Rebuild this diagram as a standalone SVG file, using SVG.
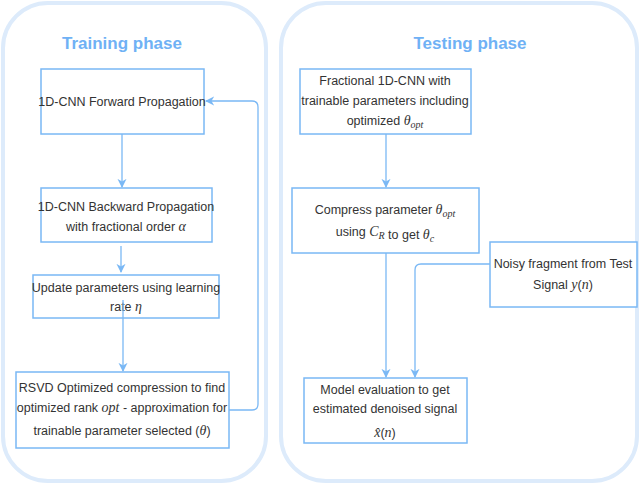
<svg xmlns="http://www.w3.org/2000/svg" width="640" height="484" viewBox="0 0 640 484">
<defs>
<marker id="ah" viewBox="0 0 10 10" refX="9" refY="5" markerWidth="7" markerHeight="7" orient="auto-start-reverse"><path d="M0,0 L10,5 L0,10 L3,5 z" fill="#7ab8f5"/></marker>
</defs>
<style>
.panel{fill:#fff;stroke:#ddebfb;stroke-width:4}
.box{fill:#fff;stroke:#7ab8f5;stroke-width:1.5}
.t{font-family:"Liberation Sans",Arial,sans-serif;font-size:12.5px;fill:#333;text-anchor:middle}
.m{font-family:"Liberation Serif",serif;font-style:italic;font-size:14px}
.h{font-family:"Liberation Sans",Arial,sans-serif;font-size:17px;font-weight:bold;fill:#6fb1f5;text-anchor:middle}
.c{fill:none;stroke:#7ab8f5;stroke-width:1.3;marker-end:url(#ah)}
</style>
<rect width="640" height="484" fill="#fff"/>
<rect class="panel" x="3" y="3" width="263" height="478" rx="45"/>
<rect class="panel" x="281" y="3" width="356" height="478" rx="45"/>
<text class="h" x="122" y="49">Training phase</text>
<text class="h" x="470" y="49">Testing phase</text>
<g id="b1"><rect class="box" x="41" y="69" width="163" height="65"/><text class="t" x="122" y="106">1D-CNN Forward Propagation</text></g>
<g id="b2"><rect class="box" x="41" y="188" width="171" height="54"/><text class="t" x="126" y="211">1D-CNN Backward Propagation</text><text class="t" x="126" y="231">with fractional order <tspan class="m">α</tspan></text></g>
<g id="b3"><rect class="box" x="33" y="275" width="186" height="43"/><text class="t" x="126" y="292">Update parameters using learning</text><text class="t" x="126" y="311">rate <tspan class="m">η</tspan></text></g>
<g id="b4"><rect class="box" x="16" y="372" width="213" height="76"/><text class="t" x="122" y="392">RSVD Optimized compression to find</text><text class="t" x="122" y="412">optimized rank <tspan class="m">opt</tspan> - approximation for</text><text class="t" x="122" y="435">trainable parameter selected (<tspan class="m">θ</tspan>)</text></g>
<g id="r1"><rect class="box" x="300" y="69" width="171" height="65"/><text class="t" x="385" y="85">Fractional 1D-CNN with</text><text class="t" x="385" y="105">trainable parameters including</text><text class="t" x="385" y="125">optimized <tspan class="m">θ<tspan font-size="10" dy="3">opt</tspan></tspan></text></g>
<g id="r2"><rect class="box" x="292" y="188" width="187" height="65"/><text class="t" x="385" y="214">Compress parameter <tspan class="m">θ<tspan font-size="10" dy="3">opt</tspan></tspan></text><text class="t" x="385" y="236">using <tspan class="m">C<tspan font-size="10" dy="3">R</tspan></tspan> to get <tspan class="m">θ<tspan font-size="10" dy="3">c</tspan></tspan></text></g>
<g id="r3"><rect class="box" x="490" y="242" width="147" height="65"/><text class="t" x="563" y="268">Noisy fragment from Test</text><text class="t" x="563" y="289">Signal <tspan class="m">y</tspan>(<tspan class="m">n</tspan>)</text></g>
<g id="r4"><rect class="box" x="304" y="378" width="163" height="65"/><text class="t" x="385" y="394">Model evaluation to get</text><text class="t" x="385" y="413">estimated denoised signal</text><text class="t" x="385" y="437"><tspan class="m">x̂</tspan>(<tspan class="m">n</tspan>)</text></g>
<g id="connectors">
<path class="c" d="M122,134 V187"/>
<path class="c" d="M121,246 V272"/>
<path class="c" d="M123,300 V371"/>
<path class="c" d="M229,410 H252 Q258,410 258,404 V107 Q258,101 252,101 H206"/>
<path class="c" d="M386,134 V187"/>
<path class="c" d="M386,253 V377"/>
<path class="c" d="M490,264 H421 Q415,264 415,270 V377"/>
</g>
</svg>
